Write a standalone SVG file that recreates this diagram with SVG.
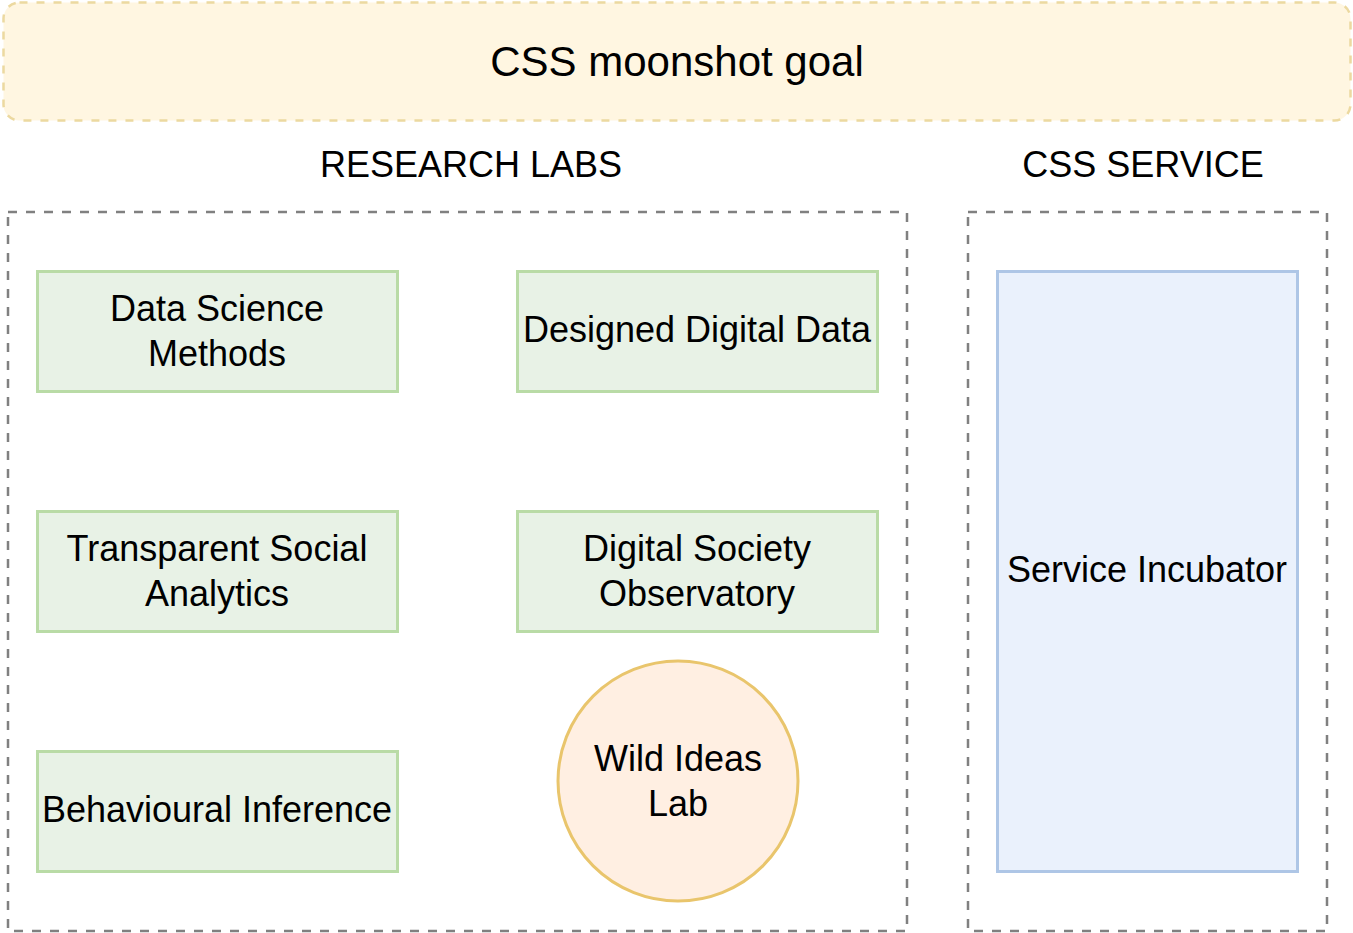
<svg xmlns="http://www.w3.org/2000/svg" width="1353" height="933" viewBox="0 0 1353 933">
<style>
text{font-family:"Liberation Sans",Arial,sans-serif;fill:#000;text-anchor:middle}
.lab{fill:#e8f2e6;stroke:#b9dba6;stroke-width:3}
.grp{fill:none;stroke:#808080;stroke-width:2.5;stroke-dasharray:9 9}
.t36{font-size:36px}
</style>
<rect width="1353" height="933" fill="#fff"/>
<g id="goal">
<rect x="3.5" y="2.5" width="1347" height="118" rx="16" fill="#fff6e1" stroke="#ecd9a0" stroke-width="2.5" stroke-dasharray="8 9"/>
<text x="677" y="75.5" font-size="42">CSS moonshot goal</text>
</g>
<g id="research-labs">
<text class="t36" x="471" y="177">RESEARCH LABS</text>
<rect class="grp" x="8" y="212" width="899" height="719"/>
</g>
<g id="css-service">
<text class="t36" x="1143" y="177">CSS SERVICE</text>
<rect class="grp" x="968" y="212" width="359" height="719"/>
</g>
<g id="data-science-methods">
<rect class="lab" x="37.5" y="271.5" width="360" height="120"/>
<text class="t36" x="217" y="321">Data Science</text>
<text class="t36" x="217" y="366">Methods</text>
</g>
<g id="designed-digital-data">
<rect class="lab" x="517.5" y="271.5" width="360" height="120"/>
<text class="t36" x="697" y="342">Designed Digital Data</text>
</g>
<g id="transparent-social-analytics">
<rect class="lab" x="37.5" y="511.5" width="360" height="120"/>
<text class="t36" x="217" y="561">Transparent Social</text>
<text class="t36" x="217" y="606">Analytics</text>
</g>
<g id="digital-society-observatory">
<rect class="lab" x="517.5" y="511.5" width="360" height="120"/>
<text class="t36" x="697" y="561">Digital Society</text>
<text class="t36" x="697" y="606">Observatory</text>
</g>
<g id="behavioural-inference">
<rect class="lab" x="37.5" y="751.5" width="360" height="120"/>
<text class="t36" x="217" y="822">Behavioural Inference</text>
</g>
<g id="wild-ideas-lab">
<circle cx="678" cy="781" r="120" fill="#ffefe2" stroke="#e9c56c" stroke-width="3"/>
<text class="t36" x="678" y="771">Wild Ideas</text>
<text class="t36" x="678" y="816">Lab</text>
</g>
<g id="service-incubator">
<rect x="997.5" y="271.5" width="300" height="600" fill="#eaf1fc" stroke="#aec6e6" stroke-width="3"/>
<text class="t36" x="1147" y="582">Service Incubator</text>
</g>
<g id="connectors"></g>
</svg>
